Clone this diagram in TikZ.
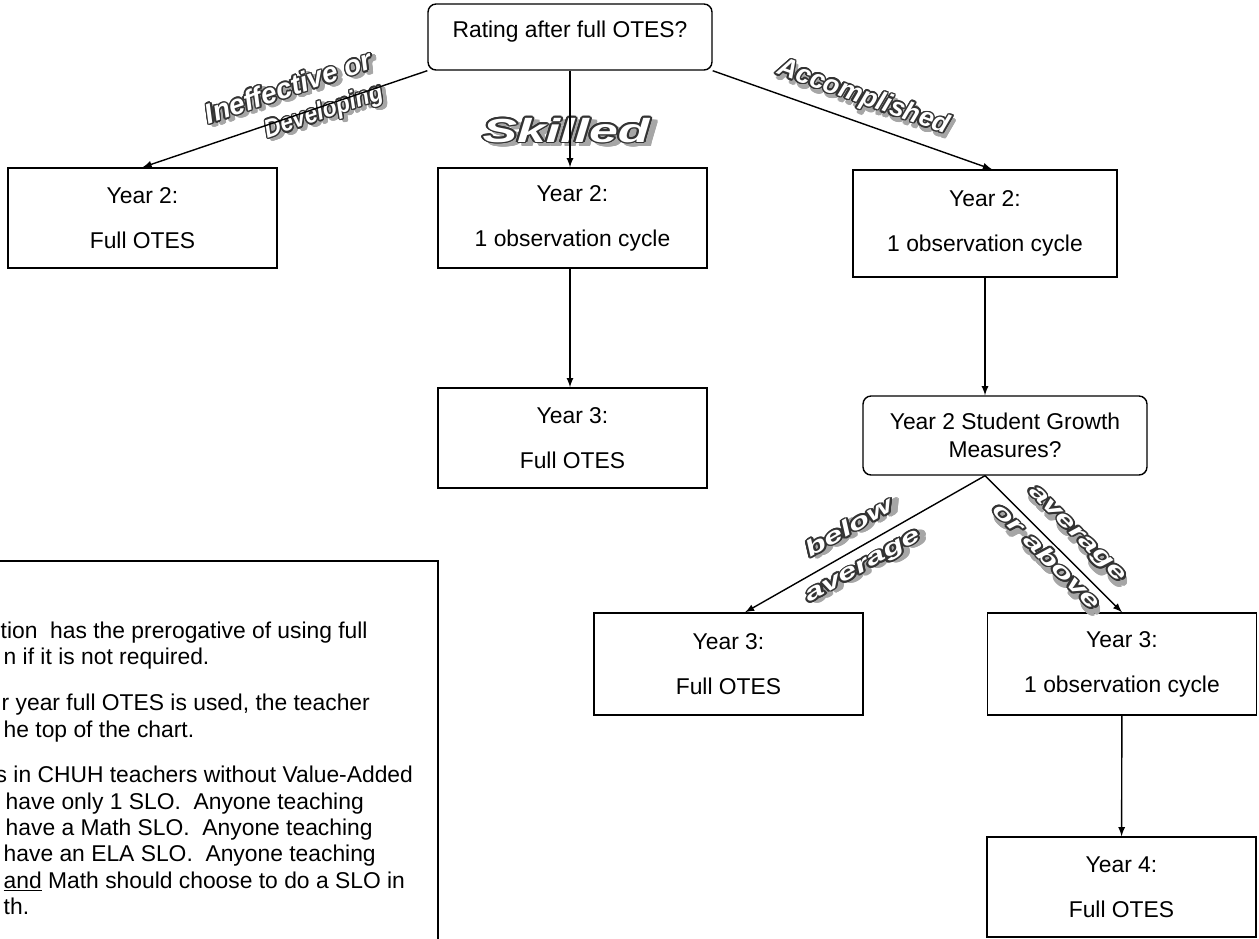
\documentclass[tikz,border=0pt]{standalone}
\usepackage{fontspec}
\setmainfont{Liberation Sans}
\usepackage{contour}
\contourlength{0.8pt}
\usetikzlibrary{arrows,positioning}

% outlined word-art text with a grey shadow
\newcommand{\art}[2][1]{\scalebox{#1}[1]{\rlap{\kern2pt\raisebox{-2pt}{\color{black!35}\contour{black!35}{#2}}}{\color{white}\contour{black!80}{#2}}}}

\begin{document}
\begin{tikzpicture}[x=0.02cm, y=-0.02cm, node distance={44mm}, thick, >=latex,
    box/.style = {draw, minimum width=5.38cm, minimum height=2cm, align=center, font=\fontsize{13}{25.5}\selectfont},
    ask/.style = {draw, rounded corners=0.16cm, minimum width=5.68cm, align=center, font=\fontsize{13}{16}\selectfont},
    wa/.style = {inner sep=0pt, behind path, font=\bfseries\itshape\fontsize{15}{16}\selectfont}]
    \useasboundingbox (0,0) rectangle (1259,938);

    \node[ask, minimum height=1.32cm, text height=1ex, text depth=1ex] (rating) at (570,37) {Rating after full OTES?};
    \node[box] (y2left) at (142.5,218) {Year 2:\\Full OTES};
    \node[box] (y2mid) at (572.5,218) {Year 2:\\1 observation cycle};
    \node[box, minimum width=5.28cm, minimum height=2.14cm] (y2right) at (985,223.5) {Year 2:\\1 observation cycle};
    \node[box] (y3mid) [below of=y2mid] {Year 3:\\Full OTES};
    \node[ask, minimum height=1.58cm] (growth) at (1005,435.5) {Year 2 Student Growth\\Measures?};
    \node[box, minimum height=2.04cm] (y3left) at (728.5,664) {Year 3:\\Full OTES};
    \node[box, minimum height=2.04cm] (y3right) at (1122,664) {Year 3:\\1 observation cycle};
    \node[box] (y4) at (1121.5,887) {Year 4:\\Full OTES};

    % note box, cut off at the left edge
    \draw (-40,561) rectangle (438,1000);
    \node[anchor=north west, align=left, inner sep=0pt, font=\fontsize{13}{15}\selectfont] (notes) at (3,621)
        {\hspace*{-0.06cm}tion\ \ has the prerogative of using full\\
         n if it is not required.\\[0.4cm]
         \hspace*{-0.04cm}r year full OTES is used, the teacher\\
         he top of the chart.\\[0.38cm]
         \hspace*{-0.16cm}s in CHUH teachers without Value-Added\\
         \hspace*{0.04cm}have only 1 SLO.\ \ Anyone teaching\\
         \hspace*{0.04cm}have a Math SLO.\ \ Anyone teaching\\
         have an ELA SLO.\ \ Anyone teaching\\
         \underline{and} Math should choose to do a SLO in\\
         th.};

    \draw[->] (rating.south west) -- node[wa, sloped, pos=0.455, yshift=0.54cm, font=\bfseries\itshape\fontsize{16}{18}\selectfont] {\art{Ineffective or}}
        node[wa, sloped, pos=0.37, yshift=-0.17cm, font=\bfseries\itshape\fontsize{14.5}{16}\selectfont] {\art[0.9]{Developing}} (y2left.north);
    \draw[->] (rating.south) -- node[wa, pos=0.64, xshift=-0.08cm, font=\bfseries\itshape\fontsize{19}{20}\selectfont] {\art[1.55]{Skilled}} (rating.south |- y2mid.north);
    \draw[->] (rating.south east) -- node[wa, sloped, pos=0.51, yshift=0.45cm] {\art{Accomplished}} ([xshift=0.14cm]y2right.north);
    \draw[->] (rating.south |- y2mid.south) -- (rating.south |- y3mid.north);
    \draw[->] (y2right.south) -- (y2right.south |- growth.north);
    \draw[->] (y2right.south |- growth.south) -- node[wa, sloped, pos=0.52, yshift=0.41cm, font=\bfseries\itshape\fontsize{12.5}{14}\selectfont] {\art[1.55]{below}}
        node[wa, sloped, pos=0.545, yshift=-0.45cm, font=\bfseries\itshape\fontsize{12.5}{14}\selectfont] {\art[1.55]{average}} ([xshift=0.33cm]y3left.north);
    \draw[->] (y2right.south |- growth.south) -- node[wa, sloped, pos=0.55, yshift=0.4cm, font=\bfseries\itshape\fontsize{12.5}{14}\selectfont] {\art[1.55]{average}}
        node[wa, sloped, pos=0.52, yshift=-0.3cm, font=\bfseries\itshape\fontsize{12.5}{14}\selectfont] {\art[1.55]{or above}} (y3right.north);
    \draw[->] (y3right) -- (y4);
\end{tikzpicture}
\end{document}
